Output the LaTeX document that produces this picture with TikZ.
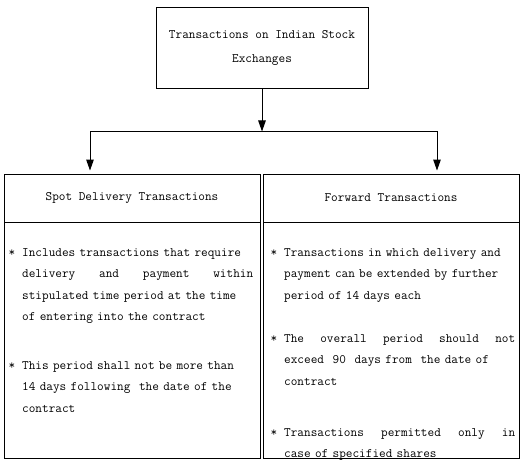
\documentclass[tikz,border=0pt]{standalone}
\usepackage{tikz}
\usetikzlibrary{arrows.meta}
\newcommand{\fillline}[1]{\leavevmode\hbox to\linewidth{#1}}

\begin{document}
\begin{tikzpicture}[x=1pt,y=1pt]
      %styles for boxes, arrows and bullet points
      \tikzset{
      box/.style={draw, line width=0.9pt, inner sep=0pt,
        font=\ttfamily\fontsize{12.9}{24}\selectfont},
      arr/.style={line width=1pt, -{Triangle[length=11pt,width=7.5pt]}},
      pts/.style={anchor=base west, inner sep=0pt, text width=231pt, align=left,
        font=\ttfamily\fontsize{12.9}{21.5}\selectfont},
      }
      \useasboundingbox (0,0) rectangle (524,469);

      %Top box
      \node[box, minimum width=212pt, minimum height=81pt, align=center] (top) at (262,421.5)
        {Transactions on Indian Stock\\Exchanges};

      %Headers
      \node[box, minimum width=256pt, minimum height=48pt] (spot) at (132,271) {Spot Delivery Transactions};
      \node[box, minimum width=256pt, minimum height=48pt] (fwd) at (391,271) {Forward Transactions};

      %Bodies
      \node[box, minimum width=256pt, minimum height=236pt, anchor=north] (spotbody) at (spot.south) {};
      \node[box, minimum width=256pt, minimum height=236pt, anchor=north] (fwdbody) at (fwd.south) {};

      %arrows
      \coordinate (split) at (top.south |- 0,337.5);
      \coordinate (lbend) at (90,337.5);
      \coordinate (rbend) at (437,337.5);
      \draw[arr] (top.south) -- (split);
      \draw[line width=1pt] (lbend) -- (rbend);
      \draw[arr, shorten >=3pt] (lbend) -- (lbend |- spot.north);
      \draw[arr, shorten >=3pt] (rbend) -- (rbend |- fwd.north);

      %Spot delivery points
      \node[pts] (spotpa) at (22,213) {\llap{*\hspace{7pt}}Includes transactions that require\\
        \fillline{delivery\hfill and\hfill payment\hfill within}\\
        stipulated time period at the time\\
        of entering into the contract};
      \node[pts] (spotpb) at (22,100) {\llap{*\hspace{7pt}}This period shall not be more than\\
        14 days following\ \ the date of the\\
        contract};

      %Forward points
      \node[pts] (fwdpa) at (284,213) {\llap{*\hspace{7pt}}Transactions in which delivery and\\
        payment can be extended by further\\
        period of 14 days each};
      \node[pts] (fwdpb) at (284,127) {\llap{*\hspace{7pt}}\fillline{The\hfill overall\hfill period\hfill should\hfill not}\\
        exceed\ \ 90\ \ days from\ \ the date of\\
        contract};
      \node[pts] (fwdpc) at (284,33) {\llap{*\hspace{7pt}}\fillline{Transactions\hfill permitted\hfill only\hfill in}\\
        case of specified shares};

\end{tikzpicture}
\end{document}
